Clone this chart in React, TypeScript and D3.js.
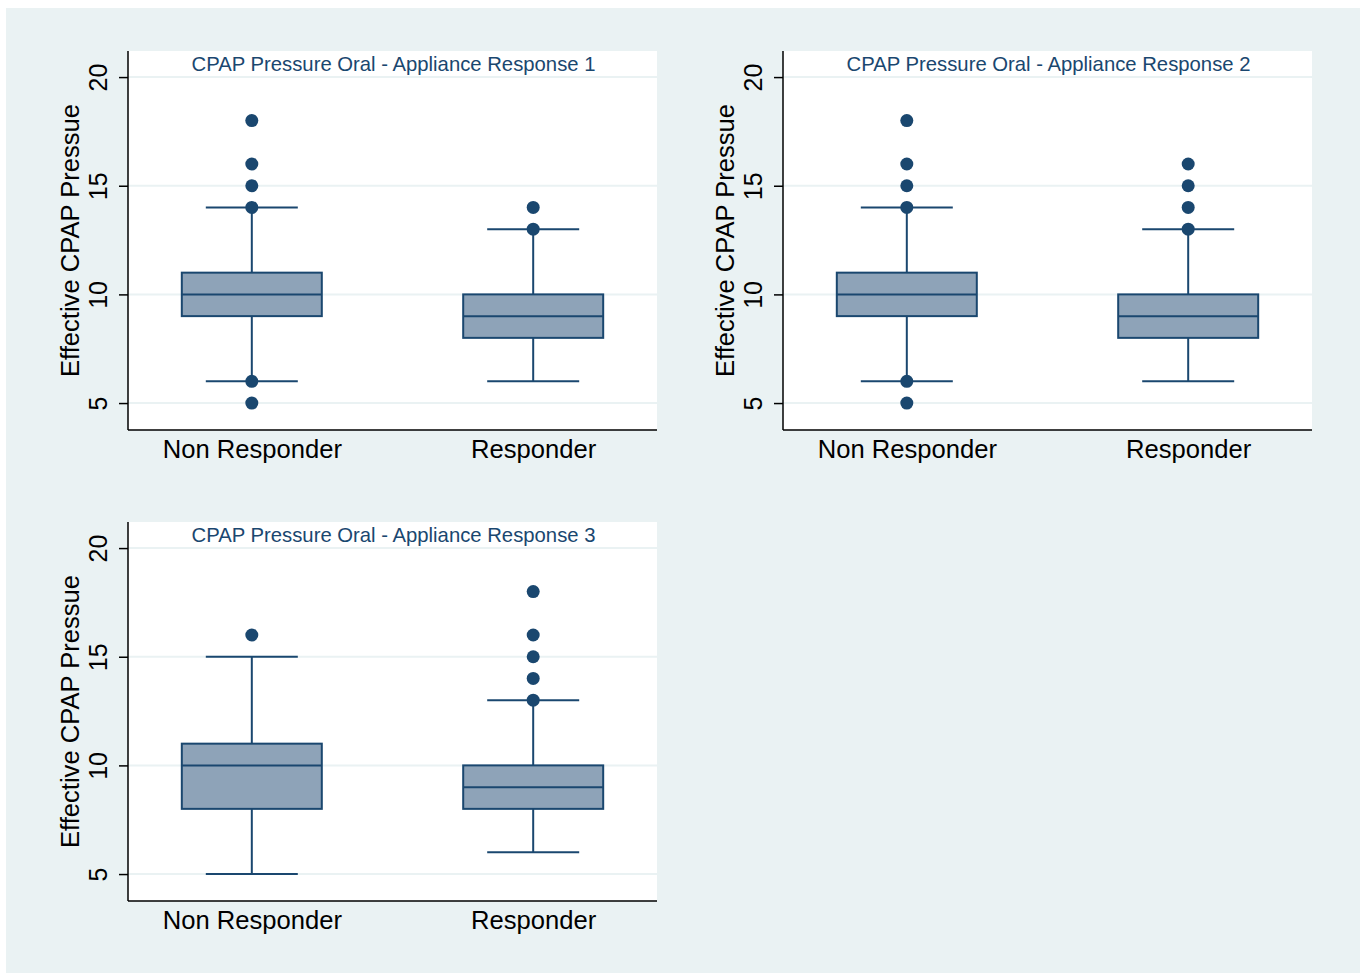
import React, { useRef, useEffect } from 'react';
import * as d3 from 'd3';

const categories = ['Non Responder', 'Responder'];
const panelTitles = [
    'CPAP Pressure Oral - Appliance Response 1',
    'CPAP Pressure Oral - Appliance Response 2',
    'CPAP Pressure Oral - Appliance Response 3'
];
const yTicks = [5, 10, 15, 20];
const yTitle = 'Effective CPAP Pressue';

// per panel: [Non Responder, Responder]
const lowerWhisker = [[6, 6], [6, 6], [5, 6]];
const quart1 = [[9, 8], [9, 8], [8, 8]];
const medians = [[10, 9], [10, 9], [10, 9]];
const quart3 = [[11, 10], [11, 10], [11, 10]];
const upperWhisker = [[14, 13], [14, 13], [15, 13]];
const outliers = [
    [[18, 16, 15, 14, 6, 5], [14, 13]],
    [[18, 16, 15, 14, 6, 5], [16, 15, 14, 13]],
    [[16], [18, 16, 15, 14, 13]]
];

const W = 1364, H = 974;
const navy = '#1a476f';
const font = 'Liberation Sans, Arial, sans-serif';

const App = () => {
    const svgRef = useRef(null);

    useEffect(() => {
        const svg = d3.select(svgRef.current);
        svg.selectAll('*').remove();

        svg.append('rect').attr('width', W).attr('height', H).attr('fill', '#ffffff');
        svg.append('rect')
            .attr('x', 6).attr('y', 8)
            .attr('width', 1354).attr('height', 965)
            .attr('fill', '#eaf2f3');

        const origins = [[128, 51], [783, 51], [128, 522]];
        const pw = 529, ph = 379;

        origins.forEach(([ox, oy], p) => {
            const g = svg.append('g').attr('transform', 'translate(' + ox + ',' + oy + ')');

            const x = d3.scalePoint().domain(categories).range([0, pw]).padding(0.44);
            const y = d3.scaleLinear().domain([3.76, 21.2]).range([ph, 0]);

            g.append('rect').attr('width', pw).attr('height', ph).attr('fill', '#ffffff');

            // gridlines
            g.selectAll('.grid').data(yTicks).enter().append('line')
                .attr('x1', 0).attr('x2', pw)
                .attr('y1', d => y(d)).attr('y2', d => y(d))
                .attr('stroke', '#eaf2f3').attr('stroke-width', 2);

            // title
            g.append('text')
                .attr('x', pw / 2 + 1).attr('y', 20)
                .attr('text-anchor', 'middle')
                .attr('font-family', font)
                .attr('font-size', 20.3)
                .attr('fill', navy)
                .text(panelTitles[p]);

            categories.forEach((c, i) => {
                const cx = x(c);
                const bg = g.append('g');
                // whiskers
                bg.append('line')
                    .attr('x1', cx).attr('x2', cx)
                    .attr('y1', y(upperWhisker[p][i])).attr('y2', y(quart3[p][i]))
                    .attr('stroke', navy).attr('stroke-width', 2);
                bg.append('line')
                    .attr('x1', cx).attr('x2', cx)
                    .attr('y1', y(lowerWhisker[p][i])).attr('y2', y(quart1[p][i]))
                    .attr('stroke', navy).attr('stroke-width', 2);
                [upperWhisker[p][i], lowerWhisker[p][i]].forEach(v => {
                    bg.append('line')
                        .attr('x1', cx - 46).attr('x2', cx + 46)
                        .attr('y1', y(v)).attr('y2', y(v))
                        .attr('stroke', navy).attr('stroke-width', 2);
                });
                // box
                bg.append('rect')
                    .attr('x', cx - 70).attr('width', 140)
                    .attr('y', y(quart3[p][i]))
                    .attr('height', y(quart1[p][i]) - y(quart3[p][i]))
                    .attr('fill', '#8ea3b8')
                    .attr('stroke', navy).attr('stroke-width', 2);
                bg.append('line')
                    .attr('x1', cx - 70).attr('x2', cx + 70)
                    .attr('y1', y(medians[p][i])).attr('y2', y(medians[p][i]))
                    .attr('stroke', navy).attr('stroke-width', 2);
                // outliers
                bg.selectAll('.dot').data(outliers[p][i]).enter().append('circle')
                    .attr('cx', cx).attr('cy', d => y(d)).attr('r', 6.5)
                    .attr('fill', navy);
            });

            // y axis
            const yAxis = g.append('g')
                .call(d3.axisLeft(y).tickValues(yTicks).tickSize(9).tickPadding(4));
            yAxis.select('.domain').attr('stroke', '#000').attr('stroke-width', 1.5)
                .attr('d', 'M0,' + ph + 'V0');
            yAxis.selectAll('.tick line').attr('stroke', '#000').attr('stroke-width', 1.5);
            yAxis.selectAll('.tick text')
                .attr('font-family', font)
                .attr('font-size', 25)
                .attr('fill', '#000')
                .attr('x', null).attr('dy', null)
                .attr('text-anchor', 'middle')
                .attr('transform', 'translate(-21,0) rotate(-90)');

            // x axis
            const xAxis = g.append('g')
                .attr('transform', 'translate(0,' + ph + ')')
                .call(d3.axisBottom(x).tickSize(0).tickPadding(10));
            xAxis.select('.domain').attr('stroke', '#000').attr('stroke-width', 1.5)
                .attr('d', 'M0,0H' + pw);
            xAxis.selectAll('.tick text')
                .attr('font-family', font)
                .attr('font-size', 25.6)
                .attr('fill', '#000');

            // y title
            g.append('text')
                .attr('transform', 'translate(-49,' + ph / 2 + ') rotate(-90)')
                .attr('text-anchor', 'middle')
                .attr('font-family', font)
                .attr('font-size', 25.6)
                .attr('fill', '#000')
                .text(yTitle);
        });
    }, []);

    return <svg ref={svgRef} width={W} height={H} style={{ position: 'absolute', left: 0, top: 0 }} />;
};

export default App;
